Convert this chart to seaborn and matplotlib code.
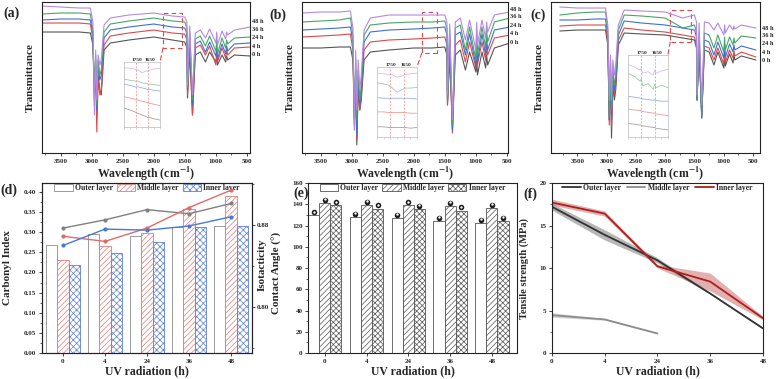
import numpy as np
import pandas as pd
import matplotlib
matplotlib.use("Agg")
import matplotlib.pyplot as plt
import matplotlib.transforms as mtransforms
import seaborn as sns
from matplotlib.patches import Rectangle, ConnectionPatch, Patch
from matplotlib.lines import Line2D
from matplotlib.ticker import MultipleLocator, FormatStrFormatter

# ---------------- FTIR spectra (arbitrary transmittance units) ----------------
wavenumber = [3800, 3500, 3200, 3020, 2980, 2955, 2935, 2917, 2895, 2868,
              2845, 2800, 2700, 2400, 2000, 1700, 1500, 1465, 1456, 1420,
              1376, 1330, 1250, 1167, 1100, 998, 985, 973, 900, 841,
              825, 809, 700, 450]
time_labels = ["0 h", "4 h", "24 h", "36 h", "48 h"]
ftir_colors = ["#555555", "#e04848", "#3f6fd6", "#48a565", "#b589e0"]

a_0h = [121, 121, 121, 120, 108, 68, 83, 58, 78, 63, 58, 103, 110, 113, 116, 113, 111, 105, 55, 101,
        38, 98, 101, 91, 101, 91, 98, 88, 98, 91, 97, 93, 98, 97]
a_4h = [130, 130, 130, 129, 113, 53, 83, 21, 73, 58, 63, 108, 117, 120, 123, 120, 119, 113, 58, 108,
        38, 105, 108, 98, 107, 88, 103, 91, 105, 95, 103, 98, 105, 106]
a_24h = [133, 134, 134, 133, 118, 48, 93, 43, 88, 73, 78, 115, 123, 126, 129, 126, 125, 119, 63, 115,
         48, 109, 112, 101, 111, 97, 107, 94, 109, 99, 107, 102, 109, 110]
a_36h = [139, 140, 140, 139, 123, 58, 98, 48, 93, 78, 83, 121, 129, 132, 135, 132, 131, 125, 65, 121,
         53, 114, 117, 107, 117, 102, 113, 99, 115, 105, 113, 109, 115, 116]
a_48h = [147, 146, 145, 145, 131, 38, 103, 53, 98, 88, 93, 128, 135, 138, 140, 137, 136, 131, 68, 127,
         58, 120, 123, 115, 124, 110, 121, 108, 122, 114, 121, 118, 123, 126]

b_0h = [105, 105, 106, 106, 93, 33, 73, 8, 63, 43, 53, 93, 101, 103, 105, 105, 106, 98, 48, 95,
        23, 98, 103, 83, 101, 81, 98, 78, 101, 85, 98, 88, 105, 110]
b_4h = [116, 117, 118, 119, 103, 28, 78, 13, 68, 43, 58, 103, 111, 113, 114, 115, 116, 108, 48, 105,
        20, 108, 113, 91, 111, 85, 108, 88, 111, 93, 108, 98, 115, 118]
b_24h = [123, 124, 125, 126, 111, 28, 83, 18, 73, 48, 63, 111, 121, 123, 124, 125, 126, 118, 53, 115,
         23, 118, 121, 98, 119, 88, 115, 91, 119, 98, 115, 103, 123, 126]
b_36h = [131, 132, 133, 135, 118, 23, 93, 33, 83, 53, 68, 118, 128, 130, 131, 131, 132, 125, 53, 123,
         28, 125, 128, 103, 126, 93, 123, 98, 126, 105, 123, 111, 131, 135]
b_48h = [140, 141, 141, 142, 125, 23, 103, 43, 93, 63, 78, 123, 135, 138, 138, 138, 138, 131, 58, 129,
         33, 131, 135, 113, 133, 103, 131, 108, 133, 115, 131, 121, 138, 141]

c_0h = [122, 123, 123, 123, 108, 33, 78, 15, 68, 53, 63, 108, 120, 119, 118, 115, 113, 105, 53, 103,
        35, 103, 101, 88, 101, 85, 98, 87, 99, 90, 98, 93, 97, 93]
c_4h = [127, 128, 128, 128, 113, 28, 83, 26, 73, 58, 68, 113, 125, 123, 121, 118, 116, 109, 53, 107,
        38, 107, 105, 93, 105, 89, 103, 91, 103, 95, 102, 97, 101, 96]
c_24h = [133, 133, 134, 134, 118, 33, 88, 33, 78, 63, 73, 118, 132, 130, 128, 125, 123, 116, 53, 115,
         35, 113, 111, 98, 111, 95, 109, 96, 109, 101, 108, 103, 107, 103]
c_36h = [138, 140, 141, 141, 123, 36, 93, 43, 85, 68, 78, 123, 138, 137, 135, 125, 128, 121, 53, 120,
         38, 120, 118, 105, 118, 101, 116, 103, 116, 108, 115, 110, 117, 115]
c_48h = [146, 145, 145, 145, 128, 53, 98, 53, 93, 78, 88, 128, 143, 142, 141, 135, 138, 131, 58, 130,
         48, 131, 130, 123, 130, 118, 128, 120, 128, 123, 127, 124, 128, 125]

# carbonyl region insets (1850-1550 cm-1)
inset_wn = [1850, 1800, 1760, 1750, 1740, 1700, 1660, 1650, 1640, 1600, 1550]
ia_0h = [30, 27, 24, 23, 22, 19, 16, 15, 15, 13, 11]
ia_4h = [48, 46, 44, 43, 43, 41, 39, 38, 38, 36, 34]
ia_24h = [68, 66, 64, 63, 64, 62, 60, 59, 60, 58, 57]
ia_36h = [76, 74, 73, 72, 73, 70, 69, 68, 68, 67, 66]
ia_48h = [94, 93, 92, 90, 91, 86, 89, 88, 90, 92, 93]
ib_0h = [15, 15, 14, 14, 14, 14, 14, 14, 14, 13, 14]
ib_4h = [37, 37, 36, 36, 36, 36, 36, 36, 36, 35, 35]
ib_24h = [58, 57, 57, 56, 57, 57, 57, 56, 57, 57, 56]
ib_36h = [80, 78, 76, 74, 73, 66, 70, 71, 72, 72, 73]
ib_48h = [94, 93, 92, 91, 92, 88, 90, 91, 92, 93, 94]
ic_0h = [17, 16, 15, 15, 14, 13, 12, 12, 11, 10, 9]
ic_4h = [35, 34, 33, 33, 32, 31, 30, 30, 29, 28, 27]
ic_24h = [51, 50, 49, 48, 48, 47, 46, 47, 46, 45, 45]
ic_36h = [80, 76, 70, 73, 64, 67, 60, 66, 62, 65, 62]
ic_48h = [91, 88, 84, 86, 80, 82, 78, 84, 80, 83, 85]

# ---------------- bar / line panels ----------------
uv_hours = ["0", "4", "24", "36", "48"]
layers = ["Outer layer", "Middle layer", "Inner layer"]

ci_outer = [0.268, 0.296, 0.291, 0.313, 0.316]
ci_middle = [0.231, 0.266, 0.298, 0.357, 0.390]
ci_inner = [0.219, 0.248, 0.276, 0.313, 0.315]

iso_outer = [0.877, 0.885, 0.895, 0.891, 0.901]
iso_middle = [0.869, 0.864, 0.877, 0.897, 0.914]
iso_inner = [0.860, 0.876, 0.875, 0.879, 0.888]

ca_outer = [129.5, 128.0, 127.0, 124.5, 122.5]
ca_middle = [141.0, 139.5, 139.0, 138.5, 136.5]
ca_inner = [139.0, 136.0, 135.5, 134.0, 124.0]

ts_outer = [17.2, 13.9, 10.9, 7.0, 2.9]
ts_outer_lo = [16.8, 13.3, 10.6, 6.9, 2.8]
ts_outer_hi = [17.6, 14.5, 11.2, 7.1, 3.0]
ts_middle = [4.45, 3.95, 2.3]
ts_middle_lo = [4.2, 3.85, 2.25]
ts_middle_hi = [4.75, 4.05, 2.35]
ts_inner = [17.7, 16.4, 10.2, 8.4, 4.1]
ts_inner_lo = [17.4, 16.1, 10.0, 7.3, 3.9]
ts_inner_hi = [18.1, 16.7, 10.4, 9.4, 4.3]

# ---------------- style ----------------
sns.set_style("ticks")
plt.rcParams["font.family"] = ["Liberation Serif", "DejaVu Serif"]
plt.rcParams["font.weight"] = "bold"
plt.rcParams["axes.labelweight"] = "bold"
plt.rcParams["mathtext.fontset"] = "stix"
plt.rcParams["hatch.linewidth"] = 0.5
plt.rcParams["axes.linewidth"] = 0.8
plt.rcParams["axes.edgecolor"] = "#222222"

TICK = 5
LAB = 8.5

fig = plt.figure(figsize=(7.76, 3.79), dpi=100)


def style_ticks(ax):
    ax.tick_params(axis="both", which="major", direction="out", length=2.5, width=0.6,
                   labelsize=TICK, pad=1.5)
    ax.tick_params(axis="both", which="minor", direction="out", length=1.5, width=0.5)
    for lab in ax.get_xticklabels() + ax.get_yticklabels():
        lab.set_fontweight("bold")


def uv_xlabel(ax):
    ax.set_xlabel("UV radiation (h)", fontsize=LAB)
    ax.xaxis.set_label_coords(0.5, -0.072)


# ---------------- FTIR panels ----------------
ftir_sets = [
    ([0.0541, 0.5963, 0.2680, 0.3984], (3800, 450), [a_0h, a_4h, a_24h, a_36h, a_48h],
     [ia_0h, ia_4h, ia_24h, ia_36h, ia_48h], [0.1598, 0.6649, 0.0464, 0.1715],
     (1850, 1550, 105, 140), [99, 107, 116, 124, 132], "(a)", (12, 13)),
    ([0.3892, 0.5963, 0.2655, 0.3984], (3800, 480), [b_0h, b_4h, b_24h, b_36h, b_48h],
     [ib_0h, ib_4h, ib_24h, ib_36h, ib_48h], [0.4858, 0.6385, 0.0515, 0.1847],
     (1870, 1630, 100, 141), [111, 120, 128, 137, 144], "(b)", (278, 15)),
    ([0.7101, 0.5963, 0.2693, 0.3984], (3950, 380), [c_0h, c_4h, c_24h, c_36h, c_48h],
     [ic_0h, ic_4h, ic_24h, ic_36h, ic_48h], [0.8093, 0.6385, 0.0515, 0.2164],
     (1915, 1560, 111, 143), [93, 101, 110, 118, 125], "(c)", (538, 15)),
]

for pos, xl, curves, icurves, ipos, rect, lab_y, letter, lpos in ftir_sets:
    ax = fig.add_axes(pos)
    for vals, col in zip(curves, ftir_colors):
        sns.lineplot(x=wavenumber, y=vals, ax=ax, color=col, lw=0.8, estimator=None)
    ax.set_xlim(*xl)
    ax.set_ylim(0, 151)
    ax.set_yticks([])
    ax.xaxis.set_major_locator(MultipleLocator(500))
    ax.xaxis.set_minor_locator(MultipleLocator(250))
    style_ticks(ax)
    ax.set_xlabel("Wavelength (cm$^{\\mathbf{-1}}$)", fontsize=LAB, labelpad=1)
    ax.set_ylabel("Transmittance", fontsize=8, labelpad=2)
    ax.yaxis.set_label_coords(-0.034, 0.5)
    tr = mtransforms.blended_transform_factory(ax.transAxes, ax.transData)
    for ty, tl in zip(lab_y, time_labels):
        ax.text(1.01, ty, tl, transform=tr, fontsize=4.5, fontweight="bold",
                ha="left", va="center", clip_on=False)
    # zoom rectangle
    x0, x1, y0, y1 = rect
    ax.add_patch(Rectangle((x1, y0), x0 - x1, y1 - y0, fill=False, ec="#e04848",
                           ls=(0, (4, 3)), lw=0.8))
    # inset
    ins = fig.add_axes(ipos)
    for vals, col in zip(icurves, ftir_colors):
        sns.lineplot(x=inset_wn, y=vals, ax=ins, color=col, lw=0.6, alpha=0.55, estimator=None)
    ins.set_xlim(1850, 1550)
    ins.set_ylim(0, 103)
    for v in (1750, 1650):
        ins.axvline(v, color="#f08a8a", lw=0.5, ls=(0, (3, 2)))
    ins.text(0.35, 1.0, "1750", transform=ins.transAxes, fontsize=3.8, ha="center", va="bottom")
    ins.text(0.72, 1.0, "1650", transform=ins.transAxes, fontsize=3.8, ha="center", va="bottom")
    ins.set_yticks([])
    ins.xaxis.set_major_locator(MultipleLocator(50))
    ins.tick_params(axis="x", length=1.2, width=0.4, labelbottom=False, colors="#bbbbbb")
    for sp in ins.spines.values():
        sp.set_color("#bbbbbb")
        sp.set_linewidth(0.5)
    ins.set_xlabel("")
    ins.set_ylabel("")
    con = ConnectionPatch(xyA=(x0, y0), coordsA="data", axesA=ax,
                          xyB=(1.0, 1.0), coordsB="axes fraction", axesB=ins,
                          color="#e04848", lw=0.8, ls=(0, (4, 3)))
    fig.add_artist(con)
    fig.text(lpos[0] / 776, 1 - lpos[1] / 379, letter, fontsize=10, fontweight="bold",
             ha="center", va="center")

# ---------------- (d) carbonyl index + isotacticity ----------------
axd = fig.add_axes([0.0541, 0.0686, 0.2706, 0.4485])
df_ci = pd.DataFrame({
    "hour": uv_hours * 3,
    "layer": [layers[0]] * 5 + [layers[1]] * 5 + [layers[2]] * 5,
    "ci": ci_outer + ci_middle + ci_inner,
})
sns.barplot(data=df_ci, x="hour", y="ci", hue="layer", order=uv_hours, hue_order=layers,
            palette=["white"] * 3, ax=axd, legend=False, width=0.8, saturation=1)
d_edges = ["#8a8a8a", "#e07a7a", "#5b7fd6"]
d_hatch = [None, "//////", "xxxxx"]
for cont, ec, h in zip(axd.containers, d_edges, d_hatch):
    for bar in cont:
        bar.set_facecolor("white")
        bar.set_edgecolor(ec)
        bar.set_linewidth(0.6)
        if h:
            bar.set_hatch(h)
axd.set_xlim(-0.5, 4.5)
axd.set_ylim(0, 0.422)
axd.yaxis.set_major_locator(MultipleLocator(0.05))
axd.yaxis.set_minor_locator(MultipleLocator(0.025))
axd.yaxis.set_major_formatter(FormatStrFormatter("%.2f"))
style_ticks(axd)
uv_xlabel(axd)
axd.set_ylabel("Carbonyl Index", fontsize=8)
axd.yaxis.set_label_coords(-0.143, 0.5)
axd.legend(handles=[Patch(facecolor="white", edgecolor=e, hatch=h, lw=0.6, label=l)
                    for e, h, l in zip(d_edges, d_hatch, layers)],
           loc="upper center", bbox_to_anchor=(0.5, 1.035), ncol=3, frameon=False,
           fontsize=5.5, handlelength=2.4, handleheight=1.0, columnspacing=0.5,
           handletextpad=0.3)

axd2 = axd.twinx()
xpos = np.arange(len(uv_hours))
for vals, col in zip([iso_outer, iso_middle, iso_inner], ["#808080", "#e06a6a", "#4a78d8"]):
    sns.lineplot(x=xpos, y=vals, ax=axd2, color=col, lw=1.0, marker="o", markersize=3,
                 markeredgewidth=0, estimator=None)
axd2.set_ylim(0.755, 0.921)
axd2.set_yticks([0.80, 0.88])
axd2.yaxis.set_minor_locator(MultipleLocator(0.04))
axd2.yaxis.set_major_formatter(FormatStrFormatter("%.2f"))
style_ticks(axd2)
axd2.tick_params(axis="y", pad=1)
axd2.set_ylabel("Isotacticity", fontsize=8)
axd2.yaxis.set_label_coords(1.028, 0.52)
fig.text(9 / 776, 1 - 190 / 379, "(d)", fontsize=10, fontweight="bold", ha="center", va="center")

# ---------------- (e) contact angle ----------------
axe = fig.add_axes([0.3969, 0.0686, 0.2693, 0.4485])
df_ca = pd.DataFrame({
    "hour": uv_hours * 3,
    "layer": [layers[0]] * 5 + [layers[1]] * 5 + [layers[2]] * 5,
    "ca": ca_outer + ca_middle + ca_inner,
})
sns.barplot(data=df_ca, x="hour", y="ca", hue="layer", order=uv_hours, hue_order=layers,
            palette=["white"] * 3, ax=axe, legend=False, width=0.8, saturation=1)
e_hatch = [None, "//////", "xxxxxx"]
for cont, h in zip(axe.containers, e_hatch):
    for bar in cont:
        bar.set_facecolor("white")
        bar.set_edgecolor("#555555")
        bar.set_linewidth(0.6)
        if h:
            bar.set_hatch(h)
        cx = bar.get_x() + bar.get_width() / 2
        top = bar.get_height()
        axe.scatter([cx], [top + 3.0], s=16, color="#1c1c1c", zorder=5, linewidths=0)
        axe.scatter([cx], [top + 3.6], s=3, color="white", zorder=6, linewidths=0)
axe.set_xlim(-0.4, 4.6)
axe.set_ylim(0, 160)
axe.yaxis.set_major_locator(MultipleLocator(20))
axe.yaxis.set_minor_locator(MultipleLocator(10))
style_ticks(axe)
uv_xlabel(axe)
axe.set_ylabel("Contact Angle (°)", fontsize=8)
axe.yaxis.set_label_coords(-0.125, 0.47)
axe.legend(handles=[Patch(facecolor="white", edgecolor="#555555", hatch=h, lw=0.6, label=l)
                    for h, l in zip(e_hatch, layers)],
           loc="upper center", bbox_to_anchor=(0.5, 1.035), ncol=3, frameon=False,
           fontsize=5.5, handlelength=2.4, handleheight=1.0, columnspacing=0.5,
           handletextpad=0.3)
fig.text(301 / 776, 1 - 193 / 379, "(e)", fontsize=10, fontweight="bold", ha="center", va="center")

# ---------------- (f) tensile strength ----------------
axf = fig.add_axes([0.7113, 0.0686, 0.2719, 0.4485])
rows = []
for lname, mid, lo, hi in [(layers[0], ts_outer, ts_outer_lo, ts_outer_hi),
                           (layers[1], ts_middle, ts_middle_lo, ts_middle_hi),
                           (layers[2], ts_inner, ts_inner_lo, ts_inner_hi)]:
    for i in range(len(mid)):
        for v in (lo[i], mid[i], hi[i]):
            rows.append({"pos": i, "layer": lname, "ts": v})
df_ts = pd.DataFrame(rows)
f_colors = ["#333333", "#8c8c8c", "#b01e1e"]
sns.lineplot(data=df_ts, x="pos", y="ts", hue="layer", hue_order=layers, palette=f_colors,
             estimator="median", errorbar=("pi", 100), err_kws={"alpha": 0.35, "lw": 0},
             ax=axf, legend=False, lw=1.3)
axf.set_xlim(0, 4)
axf.set_ylim(0, 20)
axf.set_xticks(range(len(uv_hours)))
axf.set_xticklabels(uv_hours)
axf.yaxis.set_major_locator(MultipleLocator(5))
axf.yaxis.set_minor_locator(MultipleLocator(2.5))
style_ticks(axf)
uv_xlabel(axf)
axf.set_ylabel("Tensile strength (MPa)", fontsize=7.5)
axf.yaxis.set_label_coords(-0.109, 0.5)
axf.legend(handles=[Line2D([], [], color=c, lw=1.3, label=l) for c, l in zip(f_colors, layers)],
           loc="upper center", bbox_to_anchor=(0.5, 1.035), ncol=3, frameon=False,
           fontsize=5.5, handlelength=2.4, columnspacing=0.8, handletextpad=0.3)
fig.text(530 / 776, 1 - 194 / 379, "(f)", fontsize=10, fontweight="bold", ha="center", va="center")

fig.savefig("out.png", dpi=100)
